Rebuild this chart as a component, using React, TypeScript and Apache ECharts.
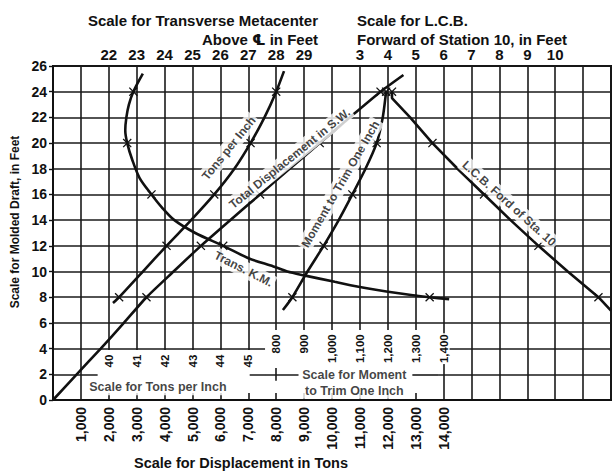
import React, { useEffect, useRef } from 'react';
import * as echarts from 'echarts';

const FONT = '"Liberation Sans", Arial, Helvetica, "DejaVu Sans", sans-serif';

// draft stations (ft) that carry an "x" marker on every curve
const markerDrafts = [8, 12, 16, 20, 24];

// Total displacement in S.W. (tons) vs molded draft (ft)
const dispDraft = [0, 2, 4, 6, 8, 10, 12, 14, 16, 18, 20, 22, 24, 25.3];
const dispTons = [0, 850, 1710, 2540, 3350, 4320, 5300, 6350, 7420, 8480, 9560, 10640, 11740, 12560];

// Tons per inch immersion
const tpiDraft = [7.55, 8, 10, 12, 14, 16, 18, 20, 22, 24, 25.6];
const tpiValue = [40.15, 40.37, 41.22, 42.07, 42.95, 43.78, 44.5, 45.08, 45.58, 46.0, 46.28];

// Transverse metacenter above base (ft)
const kmDraft = [7.85, 8, 8.15, 8.7, 9.2, 9.7, 10, 10.4, 11, 12, 13, 14, 15, 16, 17.3, 18.7, 20, 21, 22, 23, 24, 25.4];
const kmValue = [34.2, 33.5, 32.9, 31.25, 30.1, 29.0, 28.4, 27.9, 27.05, 26.1, 25.1, 24.35, 23.9, 23.53, 23.1, 22.84, 22.66, 22.59, 22.63, 22.72, 22.88, 23.22];

// Moment to trim one inch (ft-tons)
const mt1Draft = [7.0, 8, 10, 12, 14, 16, 18, 20, 22, 24];
const mt1Value = [824, 858, 912, 970, 1024, 1073, 1120, 1160, 1182, 1194];

// L.C.B. forward of station 10 (ft)
const lcbDraft = [24, 23.5, 22, 20, 18, 16, 14, 12, 10, 8, 6.95];
const lcbValue = [4.15, 4.15, 4.8, 5.6, 6.5, 7.45, 8.4, 9.4, 10.45, 11.55, 12.0];

// tick labels shown on each scale
const dispLabels = [1000, 2000, 3000, 4000, 5000, 6000, 7000, 8000, 9000, 10000, 11000, 12000, 13000, 14000];
const kmLabels = [22, 23, 24, 25, 26, 27, 28, 29];
const lcbLabels = [3, 4, 5, 6, 7, 8, 9, 10];
const tpiLabels = [40, 41, 42, 43, 44, 45];
const mt1Labels = [800, 900, 1000, 1100, 1200, 1300, 1400];

const X_SYMBOL = 'path://M1,0L5,4L9,0L10,1L6,5L10,9L9,10L5,6L1,10L0,9L4,5L0,1Z';
const INK = '#111';
const fmt = (v: number) => v.toLocaleString('en-US');

// annotation layout (text placed in displacement/draft coordinates)
const annotations = [
  { text: 'Tons per Inch', at: [6300, 19.6], rotate: 51, size: 12 },
  { text: 'Total Displacement in S.W.', at: [8480, 18.8], rotate: 39, size: 12 },
  { text: 'Moment to Trim One Inch', at: [10300, 16.8], rotate: 60, size: 12 },
  { text: 'L.C.B. Ford of Sta. 10', at: [16350, 15.3], rotate: -42, size: 12 },
  { text: 'Trans. K.M.', at: [6830, 10.2], rotate: -27, size: 12 },
  { text: 'Scale for Tons per Inch', at: [3760, 1.0], rotate: 0, size: 12.5 },
  { text: 'Scale for Moment\nto Trim One Inch', at: [10800, 1.35], rotate: 0, size: 12.5 },
];

// areas of the grid left blank for the inner scales, and the rules drawn there
const blankAreas = [
  [[1600, 0.55], [7600, 3.9]],
  [[7600, 0.55], [13800, 5.45]],
];
const scaleRules = [
  [[7050, 2], [8800, 2]],
  [[8000, 1.5], [8000, 2.5]],
  [[12880, 2], [13800, 2]],
];

function curve(name: string, xs: number[], ys: number[], xAxisIndex: number, smooth: number | boolean) {
  return {
    type: 'line',
    name,
    xAxisIndex,
    yAxisIndex: 0,
    smooth,
    z: 3,
    showSymbol: true,
    symbolSize: 9,
    lineStyle: { color: INK, width: 2.6 },
    itemStyle: { color: INK },
    data: ys.map((d, i) => ({ value: [xs[i], d], symbol: markerDrafts.includes(d) ? X_SYMBOL : 'none' })),
  };
}

const numLabel = { fontFamily: FONT, fontWeight: 'bold' as const, color: INK };
const splitStyle = { color: '#1a1a1a', width: 1.6 };

function buildOption() {
  return {
    animation: false,
    backgroundColor: '#fff',
    grid: { left: 53, right: 2, top: 66, bottom: 71, show: true, borderColor: INK, borderWidth: 2, backgroundColor: 'transparent' },
    xAxis: [
      {
        type: 'value', position: 'bottom', min: 0, max: 20000, interval: 1000,
        axisLine: { show: true, onZero: false, lineStyle: { color: INK, width: 2 } },
        axisTick: { show: false },
        splitLine: { show: true, lineStyle: splitStyle },
        axisLabel: { rotate: 90, margin: 7, fontSize: 14, ...numLabel, formatter: (v: number) => (dispLabels.includes(v) ? fmt(v) : '') },
      },
      {
        type: 'value', position: 'top', min: 20, max: 40, interval: 1,
        axisLine: { show: false, onZero: false }, axisTick: { show: false }, splitLine: { show: false },
        axisLabel: { margin: 4, fontSize: 15, ...numLabel, formatter: (v: number) => (kmLabels.includes(v) ? String(v) : '') },
      },
      {
        type: 'value', position: 'top', min: -8, max: 12, interval: 1,
        axisLine: { show: false, onZero: false }, axisTick: { show: false }, splitLine: { show: false },
        axisLabel: { margin: 4, fontSize: 15, ...numLabel, formatter: (v: number) => (lcbLabels.includes(v) ? String(v) : '') },
      },
      {
        type: 'value', position: 'bottom', offset: -51.4, min: 38, max: 58, interval: 1, z: 5,
        axisLine: { show: false, onZero: false }, axisTick: { show: false }, splitLine: { show: false },
        axisLabel: { rotate: 90, margin: 6, fontSize: 11.5, ...numLabel, formatter: (v: number) => (tpiLabels.includes(v) ? String(v) : '') },
      },
      {
        type: 'value', position: 'bottom', offset: -70.7, min: 0, max: 2000, interval: 100, z: 5,
        axisLine: { show: false, onZero: false }, axisTick: { show: false }, splitLine: { show: false },
        axisLabel: {
          rotate: 90, margin: 4, fontSize: 11.5, ...numLabel, backgroundColor: '#fff', padding: [0, 1],
          formatter: (v: number) => (mt1Labels.includes(v) ? fmt(v) : ''),
        },
      },
    ],
    yAxis: [
      {
        type: 'value', min: 0, max: 26, interval: 2,
        axisLine: { show: true, onZero: false, lineStyle: { color: INK, width: 2 } },
        axisTick: { show: true, length: 4, lineStyle: { color: INK, width: 1.4 } },
        axisLabel: { margin: 6, fontSize: 14, ...numLabel },
        splitLine: { show: true, lineStyle: splitStyle },
      },
    ],
    series: [
      {
        type: 'line', name: 'blank', xAxisIndex: 0, yAxisIndex: 0, z: 1, silent: true,
        data: [[0, 0]], symbol: 'none', lineStyle: { width: 0 },
        markArea: {
          silent: true,
          itemStyle: { color: '#fff', opacity: 1, borderWidth: 0 },
          data: blankAreas.map(([a, b]) => [{ coord: a }, { coord: b }]),
        },
      },
      {
        type: 'line', name: 'rules', xAxisIndex: 0, yAxisIndex: 0, z: 2, silent: true,
        data: [[0, 0]], symbol: 'none', lineStyle: { width: 0 },
        markLine: {
          silent: true, symbol: 'none', label: { show: false },
          lineStyle: { color: '#1a1a1a', width: 1.6, type: 'solid' },
          data: scaleRules.map(([a, b]) => [{ coord: a }, { coord: b }]),
        },
      },
      curve('Total Displacement', dispTons, dispDraft, 0, 0.2),
      curve('Tons per Inch', tpiValue, tpiDraft, 3, 0.2),
      curve('Trans. K.M.', kmValue, kmDraft, 1, 0.3),
      curve('Moment to Trim One Inch', mt1Value, mt1Draft, 4, 0.2),
      curve('L.C.B.', lcbValue, lcbDraft, 2, false),
      {
        type: 'scatter', name: 'annotations', xAxisIndex: 0, yAxisIndex: 0, z: 4, silent: true,
        symbolSize: 1, itemStyle: { color: 'rgba(0,0,0,0)' },
        data: annotations.map((a) => ({
          value: a.at,
          label: {
            show: true, position: 'inside', formatter: a.text, rotate: a.rotate,
            fontFamily: FONT, fontWeight: 'bold', fontSize: a.size, color: INK, lineHeight: 16,
            backgroundColor: '#fff', padding: [0, 2], align: 'center', verticalAlign: 'middle',
          },
        })),
      },
    ],
    graphic: [
      { type: 'text', x: 318, y: 20, z: 10, style: { text: 'Scale for Transverse Metacenter', fill: INK, fontFamily: FONT, fontWeight: 'bold', fontSize: 15, align: 'right', textAlign: 'right', verticalAlign: 'middle', textVerticalAlign: 'middle' } },
      { type: 'text', x: 318, y: 39, z: 10, style: { text: 'Above \u2104 in Feet', fill: INK, fontFamily: FONT, fontWeight: 'bold', fontSize: 15, align: 'right', textAlign: 'right', verticalAlign: 'middle', textVerticalAlign: 'middle' } },
      { type: 'text', x: 357, y: 20, z: 10, style: { text: 'Scale for L.C.B.', fill: INK, fontFamily: FONT, fontWeight: 'bold', fontSize: 15, align: 'left', textAlign: 'left', verticalAlign: 'middle', textVerticalAlign: 'middle' } },
      { type: 'text', x: 357, y: 39, z: 10, style: { text: 'Forward of Station 10, in Feet', fill: INK, fontFamily: FONT, fontWeight: 'bold', fontSize: 15, align: 'left', textAlign: 'left', verticalAlign: 'middle', textVerticalAlign: 'middle' } },
      { type: 'text', x: 15, y: 222, z: 10, rotation: Math.PI / 2, style: { text: 'Scale for Molded Draft, in Feet', fill: INK, fontFamily: FONT, fontWeight: 'bold', fontSize: 12, align: 'center', textAlign: 'center', verticalAlign: 'middle', textVerticalAlign: 'middle' } },
      { type: 'text', x: 241, y: 463, z: 10, style: { text: 'Scale for Displacement in Tons', fill: INK, fontFamily: FONT, fontWeight: 'bold', fontSize: 14.5, align: 'center', textAlign: 'center', verticalAlign: 'middle', textVerticalAlign: 'middle' } },
    ],
  };
}

export default function App() {
  const ref = useRef<HTMLDivElement>(null);
  useEffect(() => {
    document.body.style.margin = '0';
    const chart = echarts.init(ref.current as HTMLDivElement, null, { renderer: 'svg' });
    chart.setOption(buildOption() as any);
    return () => chart.dispose();
  }, []);
  return <div ref={ref} style={{ width: 614, height: 471 }} />;
}
